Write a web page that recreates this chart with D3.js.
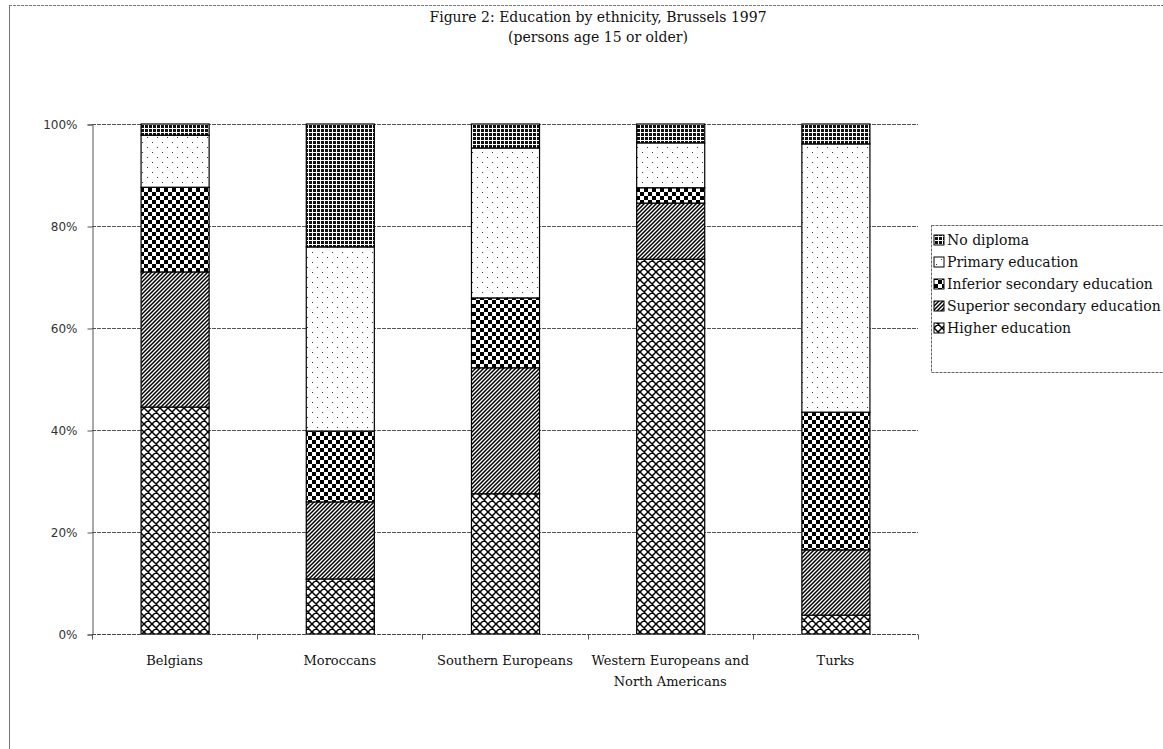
<!DOCTYPE html>
<html>
<head>
<meta charset="utf-8">
<script src="https://cdn.jsdelivr.net/npm/d3@7/dist/d3.min.js"></script>
<style>
  html, body { margin: 0; padding: 0; background: #fff; overflow: hidden; }
  svg { display: block; }
</style>
</head>
<body>
<svg id="chart" width="1163" height="749"></svg>
<script>
// ---- data ----
const categories = ["Belgians", "Moroccans", "Southern Europeans", "Western Europeans and North Americans", "Turks"];
const categoryLabelLines = [["Belgians"], ["Moroccans"], ["Southern Europeans"], ["Western Europeans and", "North Americans"], ["Turks"]];
const seriesNames = ["No diploma", "Primary education", "Inferior secondary education", "Superior secondary education", "Higher education"];
const higherEducation = [44.5, 10.8, 27.5, 73.5, 3.7];
const superiorSecondary = [26.5, 15.1, 24.7, 11.0, 12.8];
const inferiorSecondary = [16.6, 13.9, 13.7, 3.0, 27.0];
const primaryEducation = [10.2, 36.1, 29.4, 8.8, 52.6];
const noDiploma = [2.2, 24.1, 4.7, 3.7, 3.9];
const yTickValues = [0, 20, 40, 60, 80, 100];
const yTickLabels = ["0%", "20%", "40%", "60%", "80%", "100%"];
const titleLines = ["Figure 2: Education by ethnicity, Brussels 1997", "(persons age 15 or older)"];

// ---- build table ----
const keys = ["higher", "superior", "inferior", "primary", "none"];
const keyName = {none: seriesNames[0], primary: seriesNames[1], inferior: seriesNames[2], superior: seriesNames[3], higher: seriesNames[4]};
const table = categories.map((c, i) => ({
  cat: c,
  higher: higherEducation[i],
  superior: superiorSecondary[i],
  inferior: inferiorSecondary[i],
  primary: primaryEducation[i],
  none: noDiploma[i]
}));

const svg = d3.select("#chart");
const serif = "'DejaVu Serif', 'Liberation Serif', serif";

// ---- patterns ----
const defs = svg.append("defs");
// No diploma: dark grid
let p = defs.append("pattern").attr("id", "pat-none").attr("patternUnits", "userSpaceOnUse").attr("width", 4).attr("height", 4);
p.append("rect").attr("width", 4).attr("height", 4).attr("fill", "#111");
p.append("rect").attr("x", 0).attr("y", 0).attr("width", 1).attr("height", 4).attr("fill", "#fff");
p.append("rect").attr("x", 0).attr("y", 0).attr("width", 4).attr("height", 1).attr("fill", "#fff");
// Primary: sparse dots
p = defs.append("pattern").attr("id", "pat-primary").attr("patternUnits", "userSpaceOnUse").attr("width", 10).attr("height", 10);
p.append("rect").attr("width", 10).attr("height", 10).attr("fill", "#fff");
p.append("rect").attr("x", 2).attr("y", 2).attr("width", 1).attr("height", 1).attr("fill", "#333");
p.append("rect").attr("x", 7).attr("y", 7).attr("width", 1).attr("height", 1).attr("fill", "#333");
// Inferior: checkerboard
p = defs.append("pattern").attr("id", "pat-inferior").attr("patternUnits", "userSpaceOnUse").attr("width", 8).attr("height", 8);
p.append("rect").attr("width", 8).attr("height", 8).attr("fill", "#fff");
p.append("rect").attr("x", 0).attr("y", 0).attr("width", 4).attr("height", 4).attr("fill", "#000");
p.append("rect").attr("x", 4).attr("y", 4).attr("width", 4).attr("height", 4).attr("fill", "#000");
// Superior: dense forward diagonal stripes
p = defs.append("pattern").attr("id", "pat-superior").attr("patternUnits", "userSpaceOnUse").attr("width", 4).attr("height", 4);
p.append("rect").attr("width", 4).attr("height", 4).attr("fill", "#fff");
p.append("path").attr("d", "M-1,1 L1,-1 M0,4 L4,0 M3,5 L5,3").attr("stroke", "#000").attr("stroke-width", 1.5);
// Higher: diagonal crosshatch
p = defs.append("pattern").attr("id", "pat-higher").attr("patternUnits", "userSpaceOnUse").attr("width", 8).attr("height", 8);
p.append("rect").attr("width", 8).attr("height", 8).attr("fill", "#fff");
p.append("path").attr("d", "M0,0 L8,8 M-1,7 L1,9 M7,-1 L9,1 M0,8 L8,0 M-1,1 L1,-1 M7,9 L9,7").attr("stroke", "#000").attr("stroke-width", 1.5);

// ---- frame ----
svg.append("line").attr("x1", 9).attr("x2", 1163).attr("y1", 5.5).attr("y2", 5.5)
  .attr("stroke", "#777").attr("stroke-width", 1).attr("stroke-dasharray", "3,1");
svg.append("line").attr("x1", 9.5).attr("x2", 9.5).attr("y1", 5).attr("y2", 749)
  .attr("stroke", "#777").attr("stroke-width", 1);

// ---- title ----
svg.append("g").selectAll("text").data(titleLines).join("text")
  .attr("x", 598).attr("y", (d, i) => 22 + i * 20)
  .attr("text-anchor", "middle")
  .attr("font-family", serif).attr("font-size", 14).attr("fill", "#111")
  .text(d => d);

// ---- scales ----
const x = d3.scaleBand().domain(categories).range([92, 918]).paddingInner(0.588).paddingOuter(0.294);
const y = d3.scaleLinear().domain([0, 100]).range([634, 124]);

// ---- gridlines ----
svg.append("g").selectAll("line").data(yTickValues.filter(v => v > 0)).join("line")
  .attr("x1", 92).attr("x2", 918)
  .attr("y1", d => Math.round(y(d)) + 0.5).attr("y2", d => Math.round(y(d)) + 0.5)
  .attr("stroke", "#555").attr("stroke-width", 1).attr("stroke-dasharray", "4,1");

// ---- y axis ----
const yAxis = d3.axisLeft(y).tickValues(yTickValues).tickSize(5)
  .tickFormat((d, i) => yTickLabels[i]);
const gy = svg.append("g").attr("transform", "translate(92.5,0.5)").call(yAxis);
gy.select(".domain").attr("stroke", "#555");
gy.selectAll(".tick line").attr("stroke", "#555");
gy.selectAll(".tick text").attr("font-family", "'DejaVu Sans', Verdana, sans-serif")
  .attr("font-size", 12).attr("fill", "#333").attr("x", -15);

// ---- bars ----
const stacked = d3.stack().keys(keys)(table);
svg.append("g").selectAll("g").data(stacked).join("g")
  .attr("fill", d => "url(#pat-" + d.key + ")")
  .selectAll("rect").data(d => d).join("rect")
  .attr("x", d => x(d.data.cat) + 0.5)
  .attr("y", d => y(d[1]))
  .attr("width", x.bandwidth())
  .attr("height", d => y(d[0]) - y(d[1]))
  .attr("stroke", "#000").attr("stroke-width", 1.2);

// ---- x axis ----
const gx = svg.append("g").attr("transform", "translate(0,634.5)");
gx.append("line").attr("x1", 92).attr("x2", 918).attr("stroke", "#444").attr("stroke-dasharray", "4,1");
const bounds = categories.map(c => x(c) - x.step() * x.paddingInner() / 2).concat([918]);
gx.selectAll("line.tk").data(bounds).join("line").attr("class", "tk")
  .attr("x1", d => Math.round(d) + 0.5).attr("x2", d => Math.round(d) + 0.5)
  .attr("y1", 0).attr("y2", 5).attr("stroke", "#555");
gx.selectAll("text").data(categories).join("text")
  .attr("x", d => x(d) + x.bandwidth() / 2)
  .attr("text-anchor", "middle")
  .attr("font-family", serif).attr("font-size", 13).attr("fill", "#111")
  .each(function(d, i) {
    d3.select(this).selectAll("tspan").data(categoryLabelLines[i]).join("tspan")
      .attr("x", x(d) + x.bandwidth() / 2)
      .attr("y", (t, j) => 30 + j * 21)
      .text(t => t);
  });

// ---- legend ----
const legend = svg.append("g").attr("transform", "translate(931,225)");
legend.append("rect").attr("x", 0.5).attr("y", 0.5).attr("width", 260).attr("height", 147)
  .attr("fill", "#fff").attr("stroke", "#666").attr("stroke-dasharray", "3,1");
const legendKeys = ["none", "primary", "inferior", "superior", "higher"];
const li = legend.selectAll("g.item").data(legendKeys).join("g").attr("class", "item")
  .attr("transform", (d, i) => `translate(3,${15 + i * 22})`);
li.append("rect").attr("x", 0).attr("y", -5).attr("width", 10).attr("height", 10)
  .attr("fill", d => "url(#pat-" + d + ")").attr("stroke", "#000").attr("stroke-width", 1);
li.append("text").attr("x", 13).attr("y", 5)
  .attr("font-family", serif).attr("font-size", 14).attr("fill", "#111")
  .text(d => keyName[d]);
</script>
</body>
</html>
